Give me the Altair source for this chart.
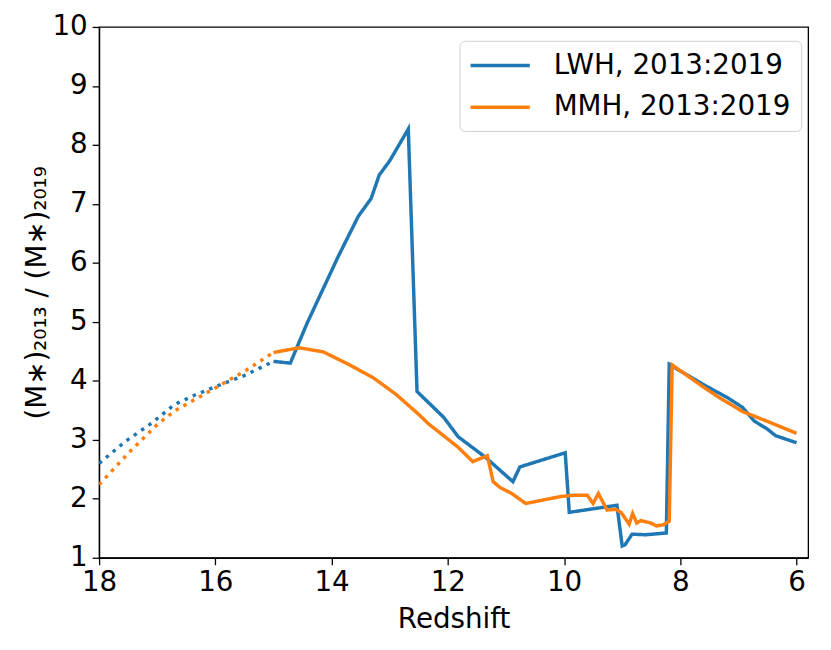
import altair as alt
import pandas as pd

LWH = "LWH, 2013:2019"
MMH = "MMH, 2013:2019"

# dotted (extrapolated) parts, z >= 15
lwh_dot_z = [18.0, 17.55, 17.1, 16.7, 16.35, 16.0, 15.5, 15.0]
lwh_dot_y = [2.60, 2.97, 3.28, 3.60, 3.76, 3.90, 4.09, 4.33]
mmh_dot_z = [18.0, 17.5, 17.0, 16.7, 16.0, 15.5, 15.0]
mmh_dot_y = [2.24, 2.77, 3.26, 3.49, 3.88, 4.16, 4.48]

# solid parts, z <= 15
lwh_z = [15.0, 14.71, 14.42, 13.88, 13.54, 13.32, 13.18, 13.0, 12.68, 12.53,
         12.07, 11.82, 11.36, 10.88, 10.76, 9.98, 9.91, 9.09, 9.0, 8.95,
         8.83, 8.6, 8.24, 8.19, 7.61, 7.18, 6.93, 6.73, 6.5, 6.36, 6.0]
lwh_y = [4.33, 4.30, 4.98, 6.12, 6.79, 7.09, 7.49, 7.73, 8.27, 3.82,
         3.38, 3.05, 2.71, 2.29, 2.54, 2.78, 1.77, 1.89, 1.20, 1.22,
         1.40, 1.39, 1.42, 4.28, 3.94, 3.71, 3.55, 3.32, 3.18, 3.07, 2.95]
mmh_z = [15.0, 14.56, 14.14, 13.69, 13.28, 12.89, 12.5, 12.32, 12.15, 11.83,
         11.57, 11.32, 11.22, 11.1, 10.9, 10.66, 10.05, 9.82, 9.6, 9.5,
         9.41, 9.26, 9.11, 9.02, 8.88, 8.82, 8.75, 8.68, 8.51, 8.41,
         8.29, 8.19, 8.14, 7.61, 7.32, 6.93, 6.47, 6.0]
mmh_y = [4.48, 4.56, 4.49, 4.27, 4.05, 3.77, 3.43, 3.26, 3.13, 2.88,
         2.63, 2.73, 2.29, 2.19, 2.09, 1.92, 2.04, 2.06, 2.06, 1.92,
         2.09, 1.81, 1.82, 1.77, 1.57, 1.75, 1.59, 1.63, 1.59, 1.54,
         1.56, 1.62, 4.27, 3.90, 3.71, 3.48, 3.30, 3.11]

x_ticks = [6, 8, 10, 12, 14, 16, 18]
y_ticks = [1, 2, 3, 4, 5, 6, 7, 8, 9, 10]

rows = []
for name, zs, ys, style in [(LWH, lwh_dot_z, lwh_dot_y, "dotted"),
                            (LWH, lwh_z, lwh_y, "solid"),
                            (MMH, mmh_dot_z, mmh_dot_y, "dotted"),
                            (MMH, mmh_z, mmh_y, "solid")]:
    for i, (z, y) in enumerate(zip(zs, ys)):
        rows.append({"z": z, "r": y, "series": name, "style": style,
                     "grp": name + style, "idx": i})
df = pd.DataFrame(rows)

FONT = "DejaVu Sans"
FS = 28

color = alt.Color("series:N",
                  scale=alt.Scale(domain=[LWH, MMH], range=["#1f77b4", "#ff7f0e"]),
                  legend=alt.Legend(title=None, orient="none", legendX=364, legendY=14,
                                    symbolType="M-2.3,0H2.3", symbolSize=676,
                                    symbolStrokeWidth=3.5, symbolOffset=16,
                                    labelFontSize=FS, labelLimit=500,
                                    labelFont=FONT, labelOffset=39, padding=10,
                                    rowPadding=13, fillColor="white",
                                    strokeColor="#d0d0d0", cornerRadius=5,
                                    labelColor="black"))

x = alt.X("z:Q", title="Redshift",
          scale=alt.Scale(domain=[5.8, 18], reverse=True, nice=False, zero=False),
          axis=alt.Axis(values=x_ticks, grid=False, tickSize=7, tickColor="black",
                        labelFontSize=FS, labelFont=FONT, labelPadding=4,
                        titleFontSize=FS, titleFont=FONT, titleFontWeight="normal",
                        titlePadding=9, domainColor="black", labelColor="black",
                        titleColor="black", labelFlush=False))
y = alt.Y("r:Q", title="(M∗)₂₀₁₃ / (M∗)₂₀₁₉",
          scale=alt.Scale(domain=[1, 10], nice=False, zero=False),
          axis=alt.Axis(values=y_ticks, grid=False, tickSize=7, tickColor="black",
                        labelFontSize=FS, labelFont=FONT, labelPadding=5,
                        titleFontSize=FS, titleFont=FONT, titleFontWeight="normal",
                        titlePadding=0, domainColor="black", labelColor="black",
                        titleColor="black", labelFlush=False))

dash = alt.StrokeDash("style:N",
                      scale=alt.Scale(domain=["solid", "dotted"], range=[[1, 0], [3.5, 5.5]]),
                      legend=None)

def layer(name):
    return alt.Chart(df).transform_filter(alt.datum.series == name).mark_line(
        strokeWidth=3.5, strokeCap="butt", clip=True
    ).encode(x=x, y=y, color=color, strokeDash=dash, detail="grp:N", order="idx:Q")

chart = alt.layer(layer(LWH), layer(MMH)).properties(
    width=716, height=536,
    autosize=alt.AutoSizeParams(type="none"),
    padding={"left": 92, "top": 16, "right": 15, "bottom": 90},
    background="white",
).configure_view(stroke="black", strokeWidth=1.3).configure_axis(domainWidth=1.3, tickWidth=1.3)

chart.save("out.html", embed_options={"renderer": "svg", "actions": False})
